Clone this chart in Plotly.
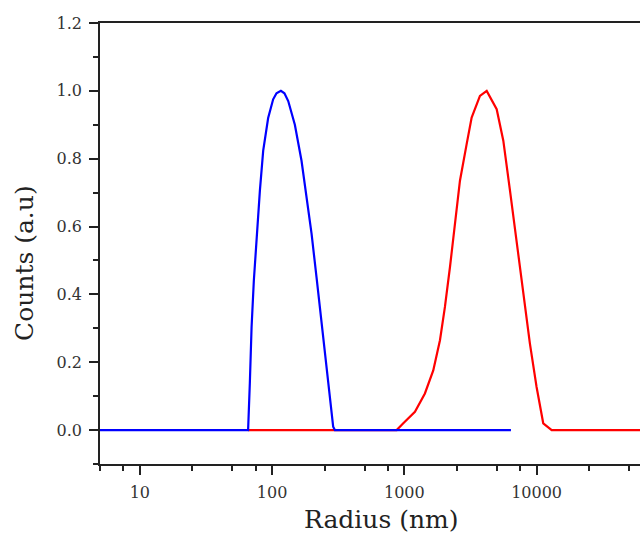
import math
import plotly.graph_objects as go

# ---- data ----
blue_r = [5, 65.9, 67.9, 70.0, 72.8, 76.3, 80.9, 85.7, 93.4, 101.9, 108, 116.6, 124, 132.5,
          148.7, 167.0, 182.2, 198.9, 216.9, 236.6, 258.2, 289.8, 298.4, 6400]
blue_c = [0, 0, 0.138, 0.304, 0.44, 0.569, 0.706, 0.824, 0.92, 0.975, 0.993, 1.0, 0.993, 0.97,
          0.90, 0.794, 0.686, 0.579, 0.45, 0.314, 0.176, 0.01, 0, 0]

red_r = [65.9, 875, 982, 1203, 1431, 1655, 1860, 2028, 2213, 2414, 2634, 2960, 3229, 3731,
         3900, 4196, 4993, 5604, 6295, 7066, 7930, 8904, 10000, 11230, 13010, 100000]
red_c = [0, 0, 0.02, 0.054, 0.108, 0.176, 0.265, 0.363, 0.48, 0.608, 0.735, 0.843, 0.921, 0.985,
         0.99, 1.0, 0.946, 0.853, 0.706, 0.559, 0.402, 0.255, 0.127, 0.02, 0, 0]

x_major = [10, 100, 1000, 10000]
x_major_labels = ["10", "100", "1000", "10000"]
x_minor = [m * 10 ** e for e in range(0, 5) for m in (2.5, 5, 7.5)]
y_major = [0.0, 0.2, 0.4, 0.6, 0.8, 1.0, 1.2]
y_minor = [-0.1, 0.1, 0.3, 0.5, 0.7, 0.9, 1.1]

FONT = "DejaVu Serif"

fig = go.Figure()
fig.add_trace(go.Scatter(x=red_r, y=red_c, mode="lines",
                         line=dict(color="#FF0000", width=2.2), showlegend=False))
fig.add_trace(go.Scatter(x=blue_r, y=blue_c, mode="lines",
                         line=dict(color="#0000FF", width=2.2), showlegend=False))

fig.update_layout(
    width=640, height=535,
    margin=dict(l=100, r=0, t=23, b=71),
    paper_bgcolor="white", plot_bgcolor="white",
    font=dict(family=FONT, color="#333333", size=16),
    xaxis=dict(
        type="log", range=[math.log10(5), 4.782],
        showgrid=False, zeroline=False,
        showline=True, linecolor="#222222", linewidth=1.5, mirror=True,
        ticks="outside", ticklen=9, tickwidth=1.5, tickcolor="#222222",
        tickmode="array", tickvals=x_major, ticktext=x_major_labels,
        tickfont=dict(family=FONT, size=16, color="#333333"),
        ticklabelstandoff=4,
        minor=dict(tickmode="array", tickvals=x_minor, ticks="outside",
                   ticklen=5, tickwidth=1.5, tickcolor="#222222", showgrid=False),
    ),
    yaxis=dict(
        range=[-0.1, 1.2],
        showgrid=False, zeroline=False,
        showline=True, linecolor="#222222", linewidth=1.5,
        ticks="outside", ticklen=9, tickwidth=1.5, tickcolor="#222222",
        tickmode="array", tickvals=y_major,
        ticktext=[f"{v:.1f}" for v in y_major],
        tickfont=dict(family=FONT, size=16, color="#333333"),
        ticklabelstandoff=4,
        minor=dict(tickmode="array", tickvals=y_minor, ticks="outside",
                   ticklen=5, tickwidth=1.5, tickcolor="#222222", showgrid=False),
    ),
    annotations=[
        dict(text="Radius (nm)", xref="paper", yref="paper",
             x=(381 - 100) / 540, y=(464 - 519) / 441,
             xanchor="center", yanchor="middle", showarrow=False,
             font=dict(family=FONT, size=25, color="#222222")),
        dict(text="Counts (a.u)", xref="paper", yref="paper",
             x=(24 - 100) / 540, y=(464 - 263) / 441, textangle=-90,
             xanchor="center", yanchor="middle", showarrow=False,
             font=dict(family=FONT, size=25, color="#222222")),
    ],
)

fig.write_html("out.html", config={"displayModeBar": False},
               post_script="document.body.style.margin='0px';")
